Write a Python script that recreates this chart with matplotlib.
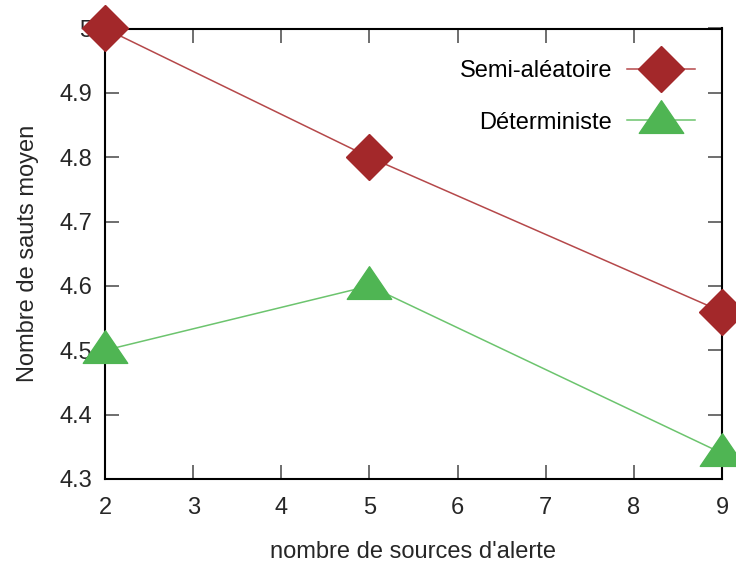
import matplotlib
matplotlib.use("Agg")
import matplotlib.pyplot as plt
from matplotlib.path import Path

plt.rcParams['font.family'] = ['Liberation Sans', 'DejaVu Sans']

# data
sources = [2, 5, 9]
semi_aleatoire = [5.0, 4.8, 4.56]
deterministe = [4.5, 4.6, 4.34]
yticks = [4.3, 4.4, 4.5, 4.6, 4.7, 4.8, 4.9, 5.0]
ytick_labels = ['4.3', '4.4', '4.5', '4.6', '4.7', '4.8', '4.9', '5']

red = '#a3282a'
red_line = '#b5484a'
green = '#4fb553'
green_line = '#6cc46e'

# flat gnuplot-like triangle
tri = Path([(0, 0.89), (-1, -0.58), (1, -0.58), (0, 0.89)],
           [Path.MOVETO, Path.LINETO, Path.LINETO, Path.CLOSEPOLY])

fig = plt.figure(figsize=(7.36, 5.65), dpi=100)
ax = fig.add_axes([105/736, 1 - 479/565, 617/736, 450.5/565])

ax.plot(sources, semi_aleatoire, color=red_line, lw=1.1, marker='D', ms=23,
        mec=red, mfc=red, clip_on=False, zorder=5, label='Semi-aléatoire')
ax.plot(sources, deterministe, color=green_line, lw=1.1, marker=tri, ms=32,
        mec=green, mfc=green, clip_on=False, zorder=5, label='Déterministe')

ax.set_xlim(2, 9)
ax.set_ylim(4.3, 5.0)
ax.set_xticks(range(2, 10))
ax.set_yticks(yticks)
ax.set_yticklabels(ytick_labels)

ax.tick_params(direction='in', length=10, width=1.2, color='#555555',
               labelsize=17, labelcolor='#262626', top=True, right=True,
               labeltop=False, labelright=False)
ax.tick_params(axis='x', pad=13)
ax.tick_params(axis='y', pad=9)
for s in ax.spines.values():
    s.set_linewidth(1.5)
    s.set_color('black')

ax.set_xlabel("nombre de sources d'alerte", fontsize=17, color='#262626', labelpad=16)
ax.set_ylabel('Nombre de sauts moyen', fontsize=17, color='#262626', labelpad=15)

ax.legend(loc='upper right', bbox_to_anchor=(695/736, 1 - 60/565),
          bbox_transform=fig.transFigure, frameon=False, fontsize=17,
          numpoints=1, handlelength=2.9, handletextpad=0.6,
          labelspacing=1.25, borderpad=0, borderaxespad=0,
          markerfirst=False)

fig.savefig('out.png', dpi=100)
